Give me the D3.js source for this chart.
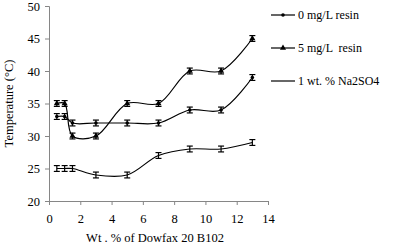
<!DOCTYPE html>
<html>
<head>
<meta charset="utf-8">
<script src="https://cdn.jsdelivr.net/npm/d3@7"></script>
<style>
  body { margin: 0; background: #fff; }
  svg { font-family: "Liberation Serif", "Times New Roman", serif; }
  .axis path, .axis line { stroke: #868686; }
</style>
</head>
<body>
<svg id="chart" width="395" height="246"></svg>
<script>
// wt.% of Dowfax 20 B102
const wt = [0.5, 1, 1.5, 3, 5, 7, 9, 11, 13]
const temp0mg = [33, 33, 32, 32, 32, 32, 34, 34, 39]
const temp5mg = [35, 35, 30, 30, 35, 35, 40, 40, 45]
const tempNa2SO4 = [25, 25, 25, 24, 24, 27, 28, 28, 29]
const errBar = 0.45
const seriesNames = ["0 mg/L resin", "5 mg/L  resin", "1 wt. % Na2SO4"]
const xTicks = [0, 2, 4, 6, 8, 10, 12, 14]
const yTicks = [20, 25, 30, 35, 40, 45, 50]

const serif = "'Liberation Serif', 'Times New Roman', serif"

let svg = d3.select("#chart")
let xScale = d3.scaleLinear().domain([0, 14]).range([49, 268])
let yScale = d3.scaleLinear().domain([20, 50]).range([201, 6])

// axes
let x_axis = d3.axisBottom(xScale).tickValues(xTicks).tickSize(4).tickPadding(9)
let y_axis = d3.axisLeft(yScale).tickValues(yTicks).tickSize(4).tickPadding(5)
let gx = svg.append("g").attr("class", "axis")
    .attr("transform", `translate(0,${yScale(20)})`)
    .call(x_axis)
let gy = svg.append("g").attr("class", "axis")
    .attr("transform", `translate(${xScale(0)},0)`)
    .call(y_axis)
;[gx, gy].forEach(g => {
    g.attr("font-family", serif).attr("font-size", 12.5)
    g.selectAll("text").style("font-family", serif).style("font-size", "12.5px").attr("fill", "#000")
})

let series = [
    {name: seriesNames[0], values: temp0mg, marker: "circle"},
    {name: seriesNames[1], values: temp5mg, marker: "triangle"},
    {name: seriesNames[2], values: tempNa2SO4, marker: "none"}
]

let line = d3.line()
    .x(d => xScale(d[0]))
    .y(d => yScale(d[1]))
    .curve(d3.curveCatmullRom.alpha(0.5))

series.forEach(s => {
    let pts = wt.map((w, i) => [w, s.values[i]])
    svg.append("path")
        .attr("d", line(pts))
        .attr("fill", "none")
        .attr("stroke", "#000")
        .attr("stroke-width", 1.2)
    // error bars
    let eb = svg.append("g")
    pts.forEach(p => {
        let cx = xScale(p[0])
        let y1 = yScale(p[1] + errBar), y2 = yScale(p[1] - errBar)
        eb.append("line").attr("x1", cx).attr("x2", cx).attr("y1", y1).attr("y2", y2)
            .attr("stroke", "#000").attr("stroke-width", 1.2)
        eb.append("line").attr("x1", cx - 3).attr("x2", cx + 3).attr("y1", y1).attr("y2", y1)
            .attr("stroke", "#000").attr("stroke-width", 1.2)
        eb.append("line").attr("x1", cx - 3).attr("x2", cx + 3).attr("y1", y2).attr("y2", y2)
            .attr("stroke", "#000").attr("stroke-width", 1.2)
    })
    // markers
    if (s.marker == "circle") {
        svg.append("g").selectAll("circle").data(pts).enter()
            .append("circle")
            .attr("cx", d => xScale(d[0]))
            .attr("cy", d => yScale(d[1]))
            .attr("r", 1.8)
            .attr("fill", "#000")
    } else if (s.marker == "triangle") {
        svg.append("g").selectAll("path").data(pts).enter()
            .append("path")
            .attr("transform", d => `translate(${xScale(d[0])},${yScale(d[1])})`)
            .attr("d", d3.symbol().type(d3.symbolTriangle).size(16))
            .attr("fill", "#000")
    }
})

// legend
let legendY = [15, 48, 81]
series.forEach((s, i) => {
    let g = svg.append("g").attr("transform", `translate(271,${legendY[i]})`)
    g.append("line").attr("x1", 0).attr("x2", 24).attr("y1", 0).attr("y2", 0)
        .attr("stroke", "#000").attr("stroke-width", 1.2)
    if (s.marker == "circle") {
        g.append("circle").attr("cx", 12).attr("cy", 0).attr("r", 1.8).attr("fill", "#000")
    } else if (s.marker == "triangle") {
        g.append("path").attr("transform", "translate(12,0)")
            .attr("d", d3.symbol().type(d3.symbolTriangle).size(16)).attr("fill", "#000")
    }
    g.append("text").attr("x", 27).attr("y", 4)
        .style("font-family", serif)
        .style("font-size", "12px")
        .style("white-space", "pre")
        .text(s.name)
})

// axis labels
svg.append("text")
    .attr("x", 155).attr("y", 242)
    .attr("text-anchor", "middle")
    .style("font-family", serif)
    .style("font-size", "12.5px")
    .text("Wt . % of Dowfax 20 B102")

svg.append("g")
    .attr("transform", `translate(13,${yScale(35)}) rotate(270)`)
    .append("text")
    .attr("text-anchor", "middle")
    .style("font-family", serif)
    .style("font-size", "12.5px")
    .text("Temperature (°C)")
</script>
</body>
</html>
